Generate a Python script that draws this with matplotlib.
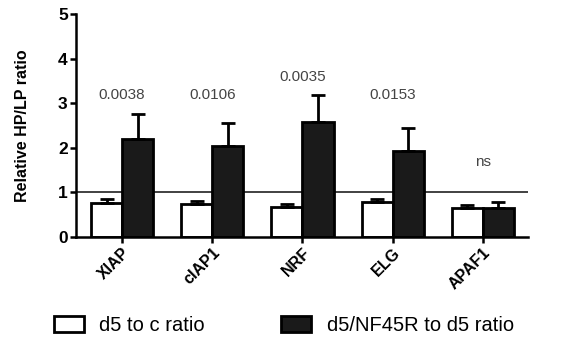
import numpy as np
import matplotlib.pyplot as plt
from matplotlib.patches import Patch

plt.rcParams['font.family'] = ['Liberation Sans', 'DejaVu Sans']

genes = ["XIAP", "cIAP1", "NRF", "ELG", "APAF1"]
d5_c = [0.76, 0.74, 0.67, 0.79, 0.65]
d5_c_err = [0.09, 0.07, 0.07, 0.07, 0.06]
nf45 = [2.19, 2.03, 2.59, 1.93, 0.66]
nf45_err = [0.56, 0.53, 0.60, 0.52, 0.12]
pvals = ["0.0038", "0.0106", "0.0035", "0.0153", "ns"]
pval_y = [3.03, 3.03, 3.43, 3.03, 1.53]

x = np.arange(len(genes))
w = 0.345

fig = plt.figure(figsize=(5.72, 3.43), dpi=100)
ax = fig.add_axes([0.133, 0.309, 0.79, 0.65])

err_kw = dict(elinewidth=2, capsize=5, capthick=2, ecolor='black')
ax.bar(x - w / 2, d5_c, w, color='white', edgecolor='black', linewidth=2,
       yerr=[np.zeros(5), d5_c_err], error_kw=err_kw, zorder=2)
ax.bar(x + w / 2, nf45, w, color='#1a1a1a', edgecolor='black', linewidth=2,
       yerr=[np.zeros(5), nf45_err], error_kw=err_kw, zorder=2)

ax.axhline(1, color='#333333', lw=1.3, zorder=1)

for xi, txt, yy in zip(x, pvals, pval_y):
    ax.text(xi, yy, txt, ha='center', va='bottom', fontsize=11, color='#444444')

ax.set_xlim(-0.51, 4.5)
ax.set_ylim(0, 5)
ax.set_yticks(range(6))
ax.set_xticks(x)
ax.set_xticklabels(genes, rotation=45, ha='right', rotation_mode='anchor',
                   fontsize=11.5, fontweight='bold')
for lab in ax.get_yticklabels():
    lab.set_fontweight('bold')
    lab.set_fontsize(12.5)
ax.set_ylabel("Relative HP/LP ratio", fontsize=11.5, fontweight='bold', labelpad=20)

for s in ['top', 'right']:
    ax.spines[s].set_visible(False)
for s in ['left', 'bottom']:
    ax.spines[s].set_linewidth(1.8)
ax.tick_params(width=1.8, length=4, pad=2)

handles = [Patch(facecolor='white', edgecolor='black', linewidth=2),
           Patch(facecolor='#1a1a1a', edgecolor='black', linewidth=2)]
fig.legend(handles, ["d5 to c ratio", "d5/NF45R to d5 ratio"], loc='lower center',
           ncol=2, frameon=False, fontsize=14.5, columnspacing=3.8,
           bbox_to_anchor=(0.496, -0.03), handlelength=1.5, handleheight=0.8,
           handletextpad=0.75)

plt.savefig("out.png", dpi=100)
